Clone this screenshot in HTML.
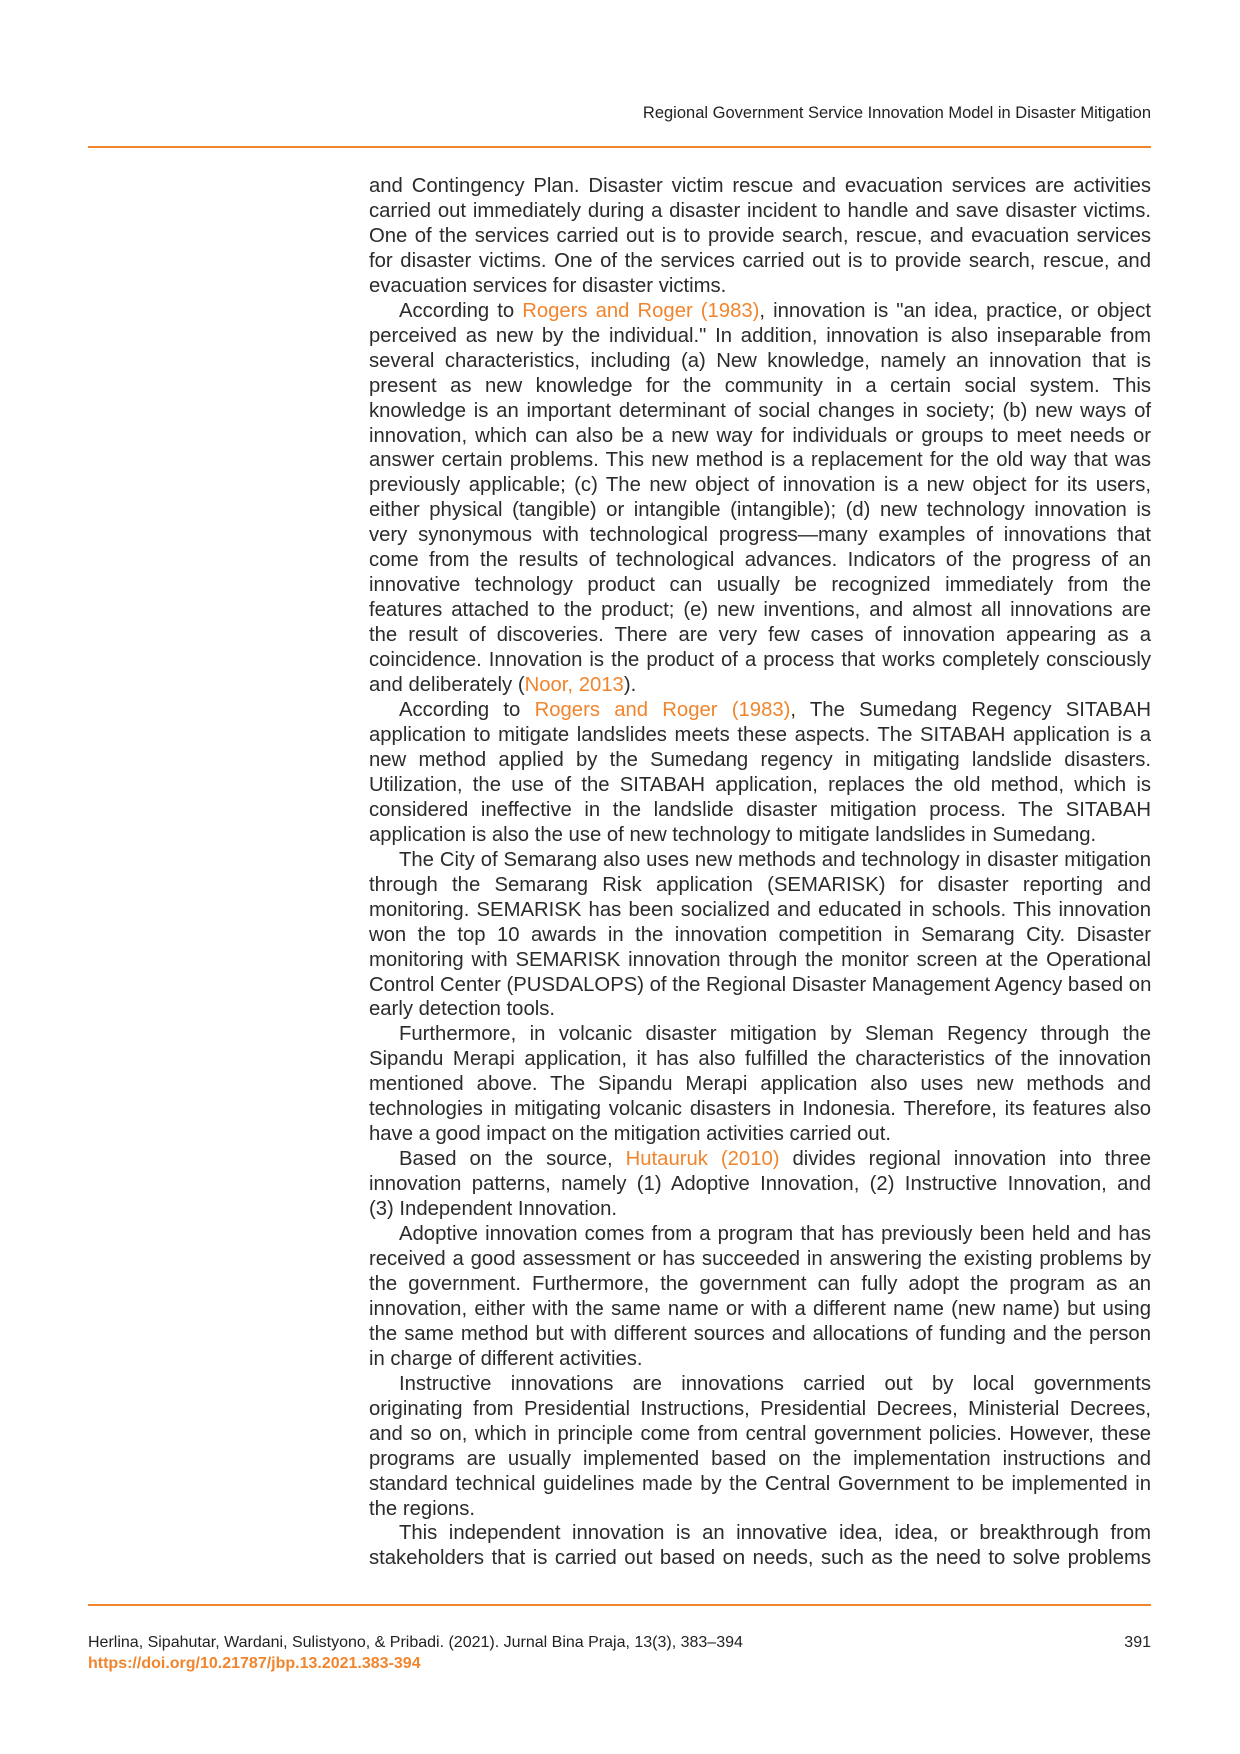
<!DOCTYPE html>
<html><head><meta charset="utf-8"><style>
html,body{margin:0;padding:0;background:#fff}
body{width:1240px;height:1754px;position:relative;overflow:hidden;font-family:"Liberation Sans Narrow","Liberation Sans",sans-serif;color:#2b2b2b}
.hdr{position:absolute;right:89px;top:104px;font-size:16.5px;color:#222}
.rule{position:absolute;left:88px;width:1063px;height:2px;background:#f0852d}
.txt{position:absolute;left:369px;width:782px;top:174px;font-size:20.3px;line-height:24.96px}
.l{text-align:justify;text-align-last:justify;white-space:nowrap;height:24.96px;overflow:visible}
.e{text-align:left;text-align-last:left}
.i{padding-left:30px}
.o{color:#f0852d}
.f1{position:absolute;left:88px;top:1634px;font-size:16px;color:#222}
.f2{position:absolute;left:88px;top:1655px;font-size:16px;color:#f0852d;font-weight:bold}
.pg{position:absolute;right:89px;top:1634px;font-size:16px;color:#222}
</style></head><body>
<div class="hdr">Regional Government Service Innovation Model in Disaster Mitigation</div>
<div class="rule" style="top:146px"></div>
<div class="txt">
<div class="l">and Contingency Plan. Disaster victim rescue and evacuation services are activities</div>
<div class="l">carried out immediately during a disaster incident to handle and save disaster victims.</div>
<div class="l">One of the services carried out is to provide search, rescue, and evacuation services</div>
<div class="l">for disaster victims. One of the services carried out is to provide search, rescue, and</div>
<div class="l e">evacuation services for disaster victims.</div>
<div class="l i">According to <span class="o">Rogers and Roger (1983)</span>, innovation is "an idea, practice, or object</div>
<div class="l">perceived as new by the individual." In addition, innovation is also inseparable from</div>
<div class="l">several characteristics, including (a) New knowledge, namely an innovation that is</div>
<div class="l">present as new knowledge for the community in a certain social system. This</div>
<div class="l">knowledge is an important determinant of social changes in society; (b) new ways of</div>
<div class="l">innovation, which can also be a new way for individuals or groups to meet needs or</div>
<div class="l">answer certain problems. This new method is a replacement for the old way that was</div>
<div class="l">previously applicable; (c) The new object of innovation is a new object for its users,</div>
<div class="l">either physical (tangible) or intangible (intangible); (d) new technology innovation is</div>
<div class="l">very synonymous with technological progress—many examples of innovations that</div>
<div class="l">come from the results of technological advances. Indicators of the progress of an</div>
<div class="l">innovative technology product can usually be recognized immediately from the</div>
<div class="l">features attached to the product; (e) new inventions, and almost all innovations are</div>
<div class="l">the result of discoveries. There are very few cases of innovation appearing as a</div>
<div class="l">coincidence. Innovation is the product of a process that works completely consciously</div>
<div class="l e">and deliberately (<span class="o">Noor, 2013</span>).</div>
<div class="l i">According to <span class="o">Rogers and Roger (1983)</span>, The Sumedang Regency SITABAH</div>
<div class="l">application to mitigate landslides meets these aspects. The SITABAH application is a</div>
<div class="l">new method applied by the Sumedang regency in mitigating landslide disasters.</div>
<div class="l">Utilization, the use of the SITABAH application, replaces the old method, which is</div>
<div class="l">considered ineffective in the landslide disaster mitigation process. The SITABAH</div>
<div class="l e">application is also the use of new technology to mitigate landslides in Sumedang.</div>
<div class="l i">The City of Semarang also uses new methods and technology in disaster mitigation</div>
<div class="l">through the Semarang Risk application (SEMARISK) for disaster reporting and</div>
<div class="l">monitoring. SEMARISK has been socialized and educated in schools. This innovation</div>
<div class="l">won the top 10 awards in the innovation competition in Semarang City. Disaster</div>
<div class="l">monitoring with SEMARISK innovation through the monitor screen at the Operational</div>
<div class="l">Control Center (PUSDALOPS) of the Regional Disaster Management Agency based on</div>
<div class="l e">early detection tools.</div>
<div class="l i">Furthermore, in volcanic disaster mitigation by Sleman Regency through the</div>
<div class="l">Sipandu Merapi application, it has also fulfilled the characteristics of the innovation</div>
<div class="l">mentioned above. The Sipandu Merapi application also uses new methods and</div>
<div class="l">technologies in mitigating volcanic disasters in Indonesia. Therefore, its features also</div>
<div class="l e">have a good impact on the mitigation activities carried out.</div>
<div class="l i">Based on the source, <span class="o">Hutauruk (2010)</span> divides regional innovation into three</div>
<div class="l">innovation patterns, namely (1) Adoptive Innovation, (2) Instructive Innovation, and</div>
<div class="l e">(3) Independent Innovation.</div>
<div class="l i">Adoptive innovation comes from a program that has previously been held and has</div>
<div class="l">received a good assessment or has succeeded in answering the existing problems by</div>
<div class="l">the government. Furthermore, the government can fully adopt the program as an</div>
<div class="l">innovation, either with the same name or with a different name (new name) but using</div>
<div class="l">the same method but with different sources and allocations of funding and the person</div>
<div class="l e">in charge of different activities.</div>
<div class="l i">Instructive innovations are innovations carried out by local governments</div>
<div class="l">originating from Presidential Instructions, Presidential Decrees, Ministerial Decrees,</div>
<div class="l">and so on, which in principle come from central government policies. However, these</div>
<div class="l">programs are usually implemented based on the implementation instructions and</div>
<div class="l">standard technical guidelines made by the Central Government to be implemented in</div>
<div class="l e">the regions.</div>
<div class="l i">This independent innovation is an innovative idea, idea, or breakthrough from</div>
<div class="l">stakeholders that is carried out based on needs, such as the need to solve problems</div>
</div>
<div class="rule" style="top:1604px"></div>
<div class="f1">Herlina, Sipahutar, Wardani, Sulistyono, &amp; Pribadi. (2021). Jurnal Bina Praja, 13(3), 383–394</div>
<div class="pg">391</div>
<div class="f2">https://doi.org/10.21787/jbp.13.2021.383-394</div>
</body></html>
